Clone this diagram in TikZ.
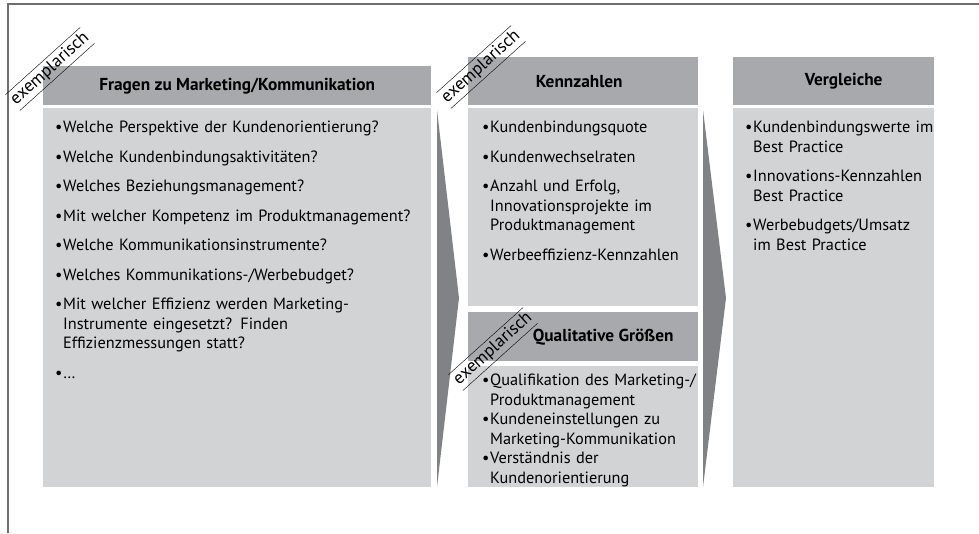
\documentclass[tikz,border=0pt]{standalone}
\usepackage{fontspec}
\setmainfont{PT Sans}

\definecolor{kopfgrau}{HTML}{A7A9AC}
\definecolor{feldgrau}{HTML}{D1D3D4}
\definecolor{pfeilgrau}{HTML}{808285}
\definecolor{rahmengrau}{HTML}{6D6E71}

\newcommand{\grundschrift}{\fontsize{16.3pt}{19.5pt}\selectfont}
\newcommand{\kopfschrift}{\fontsize{17.3pt}{20pt}\selectfont\bfseries}
\newlength{\punktbreite}
\setlength{\punktbreite}{8pt}
% ein Aufzaehlungspunkt mit haengendem Einzug
\newcommand{\punkt}[1]{\par\noindent\hangindent=\punktbreite\hangafter=1%
  \makebox[\punktbreite][l]{\textbullet}#1\par}

\tikzset{
  kopf/.style={fill=kopfgrau, anchor=north west, inner sep=0pt, font=\kopfschrift},
  feld/.style={fill=feldgrau, anchor=north west, inner sep=0pt},
  liste/.style 2 args={anchor=north west, inner sep=0pt, align=left, text width=#1,
    execute at begin node={\setlength{\parskip}{#2}}},
  schraeg/.style={rotate=42, inner sep=0pt, minimum width=100pt, minimum height=21pt,
    font=\fontsize{17.5pt}{20pt}\selectfont},
  pfeil/.style={fill=pfeilgrau},
}

\begin{document}
\begin{tikzpicture}[x=1pt, y=-1pt, font=\grundschrift]
\useasboundingbox (0,0) rectangle (979,533);
\draw[rahmengrau, line width=1.2pt] (8,533) -- (8,4) -- (979,4);

% Fragen
\node[kopf, minimum width=388pt, minimum height=39pt] (fragen) at (43,66) {Fragen zu Marketing/Kommunikation};
\node[feld, minimum width=388pt, minimum height=379pt] (fragenfeld) at (43,108) {};
\node[liste={370pt}{10pt}] (fragenliste) at (55,103) {%
  \punkt{Welche Perspektive der Kundenorientierung?}
  \punkt{Welche Kundenbindungsaktivitäten?}
  \punkt{Welches Beziehungsmanagement?}
  \punkt{Mit welcher Kompetenz im Produktmanagement?}
  \punkt{Welche Kommunikationsinstrumente?}
  \punkt{Welches Kommunikations-/Werbebudget?}
  \punkt{Mit welcher Effizienz werden Marketing-\newline Instrumente eingesetzt? Finden\newline Effizienzmessungen statt?}
  \punkt{\dots}};

% Kennzahlen
\node[kopf, minimum width=230pt, minimum height=48pt] (kennzahlen) at (468,57) {\hspace{-8pt}Kennzahlen};
\node[feld, minimum width=230pt, minimum height=198pt] (kennzahlenfeld) at (468,108) {};
\node[liste={215pt}{10pt}] (kennzahlenliste) at (482,103) {%
  \punkt{Kundenbindungsquote}
  \punkt{Kundenwechselraten}
  \punkt{Anzahl und Erfolg,\newline Innovationsprojekte im\newline Produktmanagement}
  \punkt{Werbeeffizienz-Kennzahlen}};

% Qualitative Groessen
\node[kopf, minimum width=230pt, minimum height=49pt] (qualitativ) at (468,312) {\hspace{40pt}Qualitative Größen};
\node[feld, minimum width=230pt, minimum height=121pt] (qualitativfeld) at (468,366) {};
\node[liste={225pt}{0pt}] (qualitativliste) at (482,366) {%
  \punkt{Qualifikation des Marketing-/\newline Produktmanagement}
  \punkt{Kundeneinstellungen zu\newline Marketing-Kommunikation}
  \punkt{Verständnis der\newline Kundenorientierung}};

% Vergleiche
\node[kopf, minimum width=201pt, minimum height=48pt] (vergleiche) at (733,57) {\hspace{20pt}Vergleiche};
\node[feld, minimum width=201pt, minimum height=379pt] (vergleichefeld) at (733,108) {};
\node[liste={190pt}{10pt}] (vergleicheliste) at (745,103) {%
  \punkt{Kundenbindungswerte im\newline Best Practice}
  \punkt{Innovations-Kennzahlen\newline Best Practice}
  \punkt{Werbebudgets/Umsatz\newline im Best Practice}};

% Pfeile zwischen den Spalten
\fill[pfeil] (437,110) -- (459,298) -- (437,487) -- cycle;
\fill[pfeil] (703,110) -- (726,298) -- (703,487) -- cycle;

% exemplarisch-Vermerke
\node[schraeg] (ex1) at (50,69) {exemplarisch};
\draw (ex1.north west) -- (ex1.north east);
\draw (ex1.south west) -- (ex1.south east);
\node[schraeg] (ex2) at (481,67) {exemplarisch};
\draw (ex2.north west) -- (ex2.north east);
\draw (ex2.south west) -- (ex2.south east);
\node[schraeg] (ex3) at (493,349) {exemplarisch};
\draw (ex3.north west) -- (ex3.north east);
\draw (ex3.south west) -- (ex3.south east);
\end{tikzpicture}
\end{document}
